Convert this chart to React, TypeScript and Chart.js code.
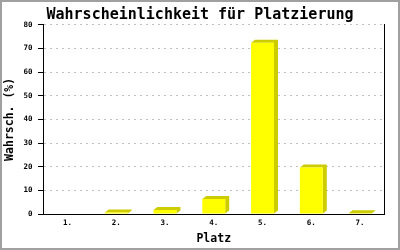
import React, { useEffect, useRef } from "react";
import { Chart, registerables } from "chart.js";

Chart.register(...registerables);

const categories = ["1.", "2.", "3.", "4.", "5.", "6.", "7."];
const probabilities = [0, 0.6, 1.7, 6.3, 72.4, 19.6, 0.3];
const yMin = 0;
const yMax = 80;
const yStep = 10;
const chartTitle = "Wahrscheinlichkeit für Platzierung";
const xTitle = "Platz";
const yTitle = "Wahrsch. (%)";

const FONT = "'DejaVu Sans Mono', monospace";

const framePlugin = {
  id: "frame3d",
  beforeDraw(chart: any) {
    const ctx = chart.ctx;
    ctx.save();
    ctx.fillStyle = "#ffffff";
    ctx.fillRect(0, 0, chart.width, chart.height);
    ctx.restore();
  },
  beforeDatasetsDraw(chart: any) {
    const ctx = chart.ctx;
    const meta = chart.getDatasetMeta(0);
    const dx = 4;
    const dy = 3;
    ctx.save();
    ctx.fillStyle = "#cccc00";
    meta.data.forEach((el: any, i: number) => {
      const v = chart.data.datasets[0].data[i];
      if (!v) return;
      const { x, y, base, width } = el.getProps(["x", "y", "base", "width"], true);
      const l = x - width / 2;
      const r = x + width / 2;
      ctx.beginPath();
      ctx.moveTo(l, y);
      ctx.lineTo(l + dx, y - dy);
      ctx.lineTo(r + dx, y - dy);
      ctx.lineTo(r + dx, base - dy);
      ctx.lineTo(r, base);
      ctx.lineTo(r, y);
      ctx.closePath();
      ctx.fill();
    });
    ctx.restore();
  },
  afterDraw(chart: any) {
    const ctx = chart.ctx;
    ctx.save();
    ctx.strokeStyle = "#a0a0a0";
    ctx.lineWidth = 2;
    ctx.strokeRect(1, 1, chart.width - 2, chart.height - 2);
    ctx.restore();
  },
};

export default function App() {
  const ref = useRef<HTMLCanvasElement | null>(null);

  useEffect(() => {
    document.body.style.margin = "0";
    const canvas = ref.current;
    if (!canvas) return;
    const chart = new Chart(canvas, {
      type: "bar",
      data: {
        labels: categories,
        datasets: [
          {
            data: probabilities,
            backgroundColor: "#ffff00",
            borderWidth: 0,
            categoryPercentage: 1,
            barPercentage: 0.47,
            yAxisID: "y",
          },
        ],
      },
      options: {
        animation: false,
        responsive: false,
        maintainAspectRatio: false,
        events: [],
        layout: { padding: { left: 0, right: 0, top: 0, bottom: 0 } },
        plugins: {
          legend: { display: false },
          tooltip: { enabled: false },
          title: {
            display: true,
            text: chartTitle,
            color: "#000000",
            font: { family: FONT, size: 15, weight: "bold", lineHeight: 1.2 },
            padding: { top: 6, bottom: 0.7 },
          },
        },
        scales: {
          x: {
            type: "category",
            offset: true,
            grid: { display: false, drawTicks: false },
            border: { display: true, color: "#000000", width: 1 },
            ticks: {
              color: "#000000",
              font: { family: FONT, size: 7.5, weight: "bold" },
              padding: 4.5,
              maxRotation: 0,
              autoSkip: false,
            },
            title: {
              display: true,
              text: xTitle,
              color: "#000000",
              font: { family: FONT, size: 11.5, weight: "bold", lineHeight: 1 },
              padding: { top: 0, bottom: 5 },
            },
            afterFit(scale: any) {
              scale.height = 36;
            },
          },
          y: {
            type: "linear",
            position: "left",
            min: yMin,
            max: yMax,
            grid: {
              color: "#c0c0c0",
              lineWidth: 1,
              drawTicks: true,
              tickLength: 5,
              tickColor: "#000000",
              tickBorderDash: [],
            },
            border: { display: true, color: "#000000", width: 1, dash: [2, 4] },
            ticks: {
              stepSize: yStep,
              color: "#000000",
              font: { family: FONT, size: 7.5, weight: "bold" },
              padding: 5.5,
            },
            title: {
              display: true,
              text: yTitle,
              color: "#000000",
              font: { family: FONT, size: 11.5, weight: "bold", lineHeight: 1 },
              padding: { top: 4.5, bottom: 0 },
            },
            afterFit(scale: any) {
              scale.width = 43;
            },
          },
          y2: {
            type: "linear",
            position: "right",
            min: yMin,
            max: yMax,
            grid: { display: false, drawOnChartArea: false, drawTicks: false },
            border: { display: true, color: "#000000", width: 1 },
            ticks: { display: false },
            afterFit(scale: any) {
              scale.width = 15.5;
            },
          },
        },
      } as any,
      plugins: [framePlugin],
    });
    return () => chart.destroy();
  }, []);

  return (
    <div style={{ width: 400, height: 250 }}>
      <canvas ref={ref} width={400} height={250} style={{ display: "block" }} />
    </div>
  );
}
